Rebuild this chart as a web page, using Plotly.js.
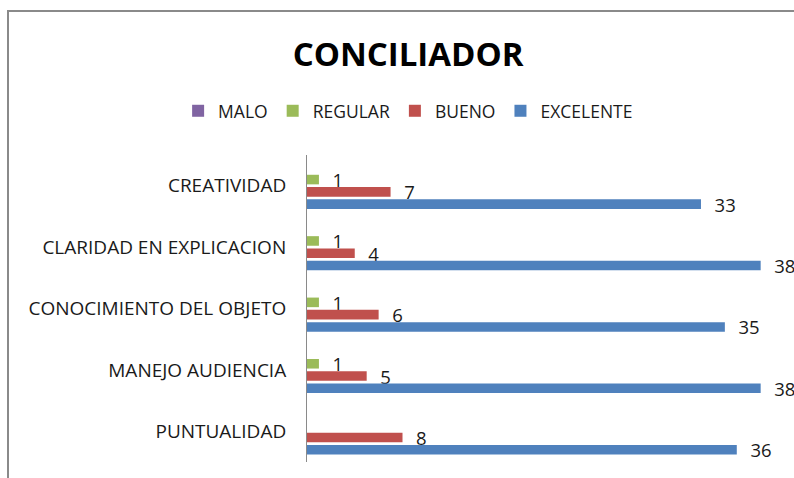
<!DOCTYPE html>
<html>
<head>
<meta charset="utf-8">
<script src="https://cdn.plot.ly/plotly-3.0.1.min.js"></script>
<style>
  html, body { margin: 0; padding: 0; overflow: hidden; background: #fff; }
  #chart { width: 794px; height: 478px; position: absolute; left: 0; top: 0; }
  #frame { position: absolute; left: 7px; top: 10px; width: 900px; height: 600px;
           border: 2px solid #8a8a8a; pointer-events: none; }
</style>
</head>
<body>
<div id="chart"></div>
<div id="frame"></div>
<script>
const categories = ["CREATIVIDAD", "CLARIDAD EN EXPLICACION", "CONOCIMIENTO DEL OBJETO", "MANEJO AUDIENCIA", "PUNTUALIDAD"];
const seriesNames = ["MALO", "REGULAR", "BUENO", "EXCELENTE"];
const malo = [null, null, null, null, null];
const regular = [1, 1, 1, 1, null];
const bueno = [7, 4, 6, 5, 8];
const excelente = [33, 38, 35, 38, 36];
const colors = ["#8064A2", "#9BBB59", "#C0504D", "#4F81BD"];

const allValues = [malo, regular, bueno, excelente];
const traces = allValues.map((vals, i) => ({
  type: "bar",
  orientation: "h",
  name: seriesNames[i],
  y: categories,
  x: vals,
  marker: { color: colors[i], line: { width: 0 } },
  texttemplate: "\u2007%{x}",
  textposition: "outside",
  constraintext: "none",
  cliponaxis: false,
  textfont: { family: "Open Sans, sans-serif", size: 18.5, color: "#1a1a1a" },
  hoverinfo: "x+y+name"
}));

const layout = {
  width: 794, height: 478,
  paper_bgcolor: "rgba(0,0,0,0)", plot_bgcolor: "rgba(0,0,0,0)",
  margin: { l: 307, r: 27, t: 155, b: 16, pad: 0 },
  barmode: "group",
  bargap: 0.2,
  bargroupgap: 0.22,
  title: {
    text: "<b>CONCILIADOR</b>",
    font: { family: "Open Sans, sans-serif", size: 33, color: "#000" },
    xref: "container", x: 0.514, xanchor: "center",
    yref: "container", y: 0.887, yanchor: "middle"
  },
  showlegend: true,
  legend: {
    orientation: "h",
    xref: "container", x: 0.514, xanchor: "center",
    yref: "container", y: 0.768, yanchor: "middle",
    font: { family: "Open Sans, sans-serif", size: 17.5, color: "#1a1a1a" },
    itemwidth: 30,
    traceorder: "normal"
  },
  xaxis: {
    range: [0, 38.53],
    showgrid: false, zeroline: false, showline: false,
    showticklabels: false, ticks: ""
  },
  yaxis: {
    type: "category",
    autorange: "reversed",
    showline: true, linecolor: "#8a8a8a", linewidth: 1,
    showgrid: false, zeroline: false,
    ticks: "", ticklabelstandoff: 16,
    tickfont: { family: "Open Sans, sans-serif", size: 19, color: "#1a1a1a" }
  }
};

Plotly.newPlot("chart", traces, layout, { displayModeBar: false, staticPlot: true });
</script>
</body>
</html>
